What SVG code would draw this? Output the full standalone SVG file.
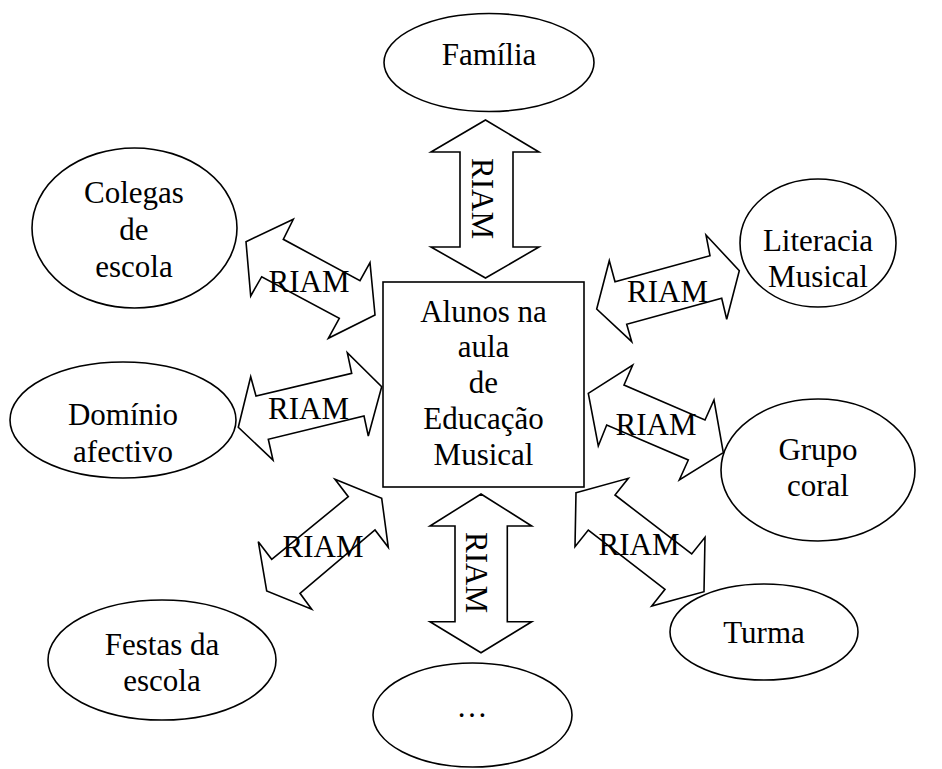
<svg xmlns="http://www.w3.org/2000/svg" width="942" height="769" viewBox="0 0 942 769">
<style>
.n{fill:#fff;stroke:#000;stroke-width:1.6}
.a{fill:none;stroke:#000;stroke-width:1.6;stroke-linejoin:miter}
text{font-family:"Liberation Serif","Times New Roman",serif;font-size:31px;fill:#000;text-anchor:middle}
</style>
<rect width="942" height="769" fill="#fff"/>
<g id="familia"><ellipse class="n" cx="489" cy="62.5" rx="105" ry="49"/><text x="489" y="65">Família</text></g>
<g id="colegas"><ellipse class="n" cx="134.5" cy="228" rx="102.5" ry="80"/><text x="134" y="203">Colegas</text><text x="134" y="240">de</text><text x="134" y="277">escola</text></g>
<g id="literacia"><ellipse class="n" cx="818" cy="243" rx="78" ry="64"/><text x="818" y="251">Literacia</text><text x="818" y="287">Musical</text></g>
<g id="dominio"><ellipse class="n" cx="123" cy="420" rx="113" ry="58"/><text x="123" y="425">Domínio</text><text x="123" y="462">afectivo</text></g>
<g id="grupo"><ellipse class="n" cx="818" cy="470" rx="97" ry="71"/><text x="818" y="460">Grupo</text><text x="818" y="496">coral</text></g>
<g id="festas"><ellipse class="n" cx="162" cy="660" rx="114" ry="60"/><text x="162" y="655">Festas da</text><text x="162" y="691">escola</text></g>
<g id="turma"><ellipse class="n" cx="764" cy="632" rx="94" ry="48"/><text x="764" y="643">Turma</text></g>
<g id="outros"><ellipse class="n" cx="472.5" cy="715" rx="99.5" ry="52"/><text x="472" y="717">…</text></g>
<g id="alunos"><rect class="n" x="383" y="282" width="201" height="205"/><text x="483.5" y="322">Alunos na</text><text x="483.5" y="357">aula</text><text x="483.5" y="393">de</text><text x="483.5" y="429">Educação</text><text x="483.5" y="465">Musical</text></g>
<g id="connectors">
<polygon class="a" points="485.5,120 539,152 513,152 513,247 539,247 485.5,278 431,247 460,247 460,152 431,152"/>
<polygon class="a" points="481,494 531.7,526 507.3,526 507.3,621.7 531.7,621.7 481,652.7 430,621.7 455,621.7 455,526 430,526"/>
<polygon class="a" points="246,241.7 293.3,219.3 283.3,239.3 360,280.7 370,262.7 375,315 328.3,338.3 339.3,318.3 261.7,276.7 250.7,296"/>
<polygon class="a" points="596.7,309 609.3,260.7 615,281.7 710,255.7 706,235 739.3,270.7 726.7,319.3 721.7,298.3 626.7,324.3 631.7,341.7"/>
<polygon class="a" points="238.3,427.3 250.7,376.7 256,396 351.7,373.3 347.3,352.7 381.7,386.7 368.3,436 364,416 268.3,439.3 273,460"/>
<polygon class="a" points="588.3,393.3 632.7,365 624,385 705,420 714,400 723.3,452.7 679.3,480 688.3,460 606.7,425 598.3,446"/>
<polygon class="a" points="335,479.3 381.7,498.3 388.3,547.3 375,530 300,593.3 311.7,609.3 266.7,591 258.3,541.7 271.7,559.3 348.3,496.7"/>
<polygon class="a" points="576,492.7 628.3,478.3 615,495 691.7,554 705,537.3 704,591.7 651.7,606 665,589.3 588.3,530 575,546.7"/>
<text transform="translate(472,198.5) rotate(90)">RIAM</text>
<text transform="translate(466,572.5) rotate(90)">RIAM</text>
<text x="309" y="292">RIAM</text>
<text x="667.5" y="302">RIAM</text>
<text x="308.5" y="419">RIAM</text>
<text x="656" y="435">RIAM</text>
<text x="323" y="557">RIAM</text>
<text x="639" y="555">RIAM</text>
</g>
</svg>
